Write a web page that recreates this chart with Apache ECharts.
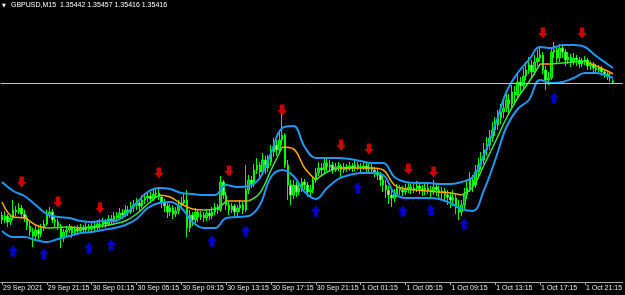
<!DOCTYPE html>
<html><head><meta charset="utf-8">
<script src="https://cdn.jsdelivr.net/npm/echarts@6/dist/echarts.min.js"></script>
<style>html,body{margin:0;padding:0;background:#000;}#c{width:625px;height:295px;}</style>
</head><body><div id="c"></div>
<script>
const symbolName = 'GBPUSD,M15';
const lastQuote = [1.35442, 1.35457, 1.35416, 1.35416];
const bidPrice = 1.35416;
const barCount = 222;
const tickEvery = 16;
const tickLabels = ['29 Sep 2021','29 Sep 21:15','30 Sep 01:15','30 Sep 05:15','30 Sep 09:15','30 Sep 13:15','30 Sep 17:15','30 Sep 21:15','1 Oct 01:15','1 Oct 05:15','1 Oct 09:15','1 Oct 13:15','1 Oct 17:15','1 Oct 21:15'];

// [open, close, low, high]
const candles = [
[1.3410,1.3405,1.3401,1.3413],[1.3405,1.3409,1.3402,1.3414],[1.3409,1.3403,1.3398,1.3411],[1.3403,1.3407,1.3400,1.3410],
[1.3407,1.3415,1.3405,1.3425],[1.3415,1.3413,1.3409,1.3419],[1.3413,1.3417,1.3411,1.3422],[1.3417,1.3411,1.3407,1.3420],
[1.3411,1.3407,1.3403,1.3415],[1.3407,1.3399,1.3395,1.3410],[1.3399,1.3393,1.3389,1.3403],[1.3393,1.3389,1.3378,1.3397],
[1.3389,1.3395,1.3385,1.3399],[1.3395,1.3391,1.3386,1.3398],[1.3391,1.3397,1.3388,1.3401],[1.3397,1.3401,1.3394,1.3405],
[1.3401,1.3410,1.3399,1.3415],[1.3410,1.3413,1.3407,1.3418],[1.3413,1.3405,1.3402,1.3416],[1.3405,1.3403,1.3398,1.3409],
[1.3403,1.3399,1.3395,1.3406],[1.3399,1.3387,1.3377,1.3401],[1.3387,1.3393,1.3383,1.3396],[1.3393,1.3395,1.3389,1.3399],
[1.3395,1.3397,1.3392,1.3401],[1.3397,1.3392,1.3387,1.3399],[1.3392,1.3396,1.3389,1.3399],[1.3396,1.3394,1.3390,1.3400],
[1.3394,1.3397,1.3391,1.3401],[1.3397,1.3395,1.3392,1.3400],[1.3395,1.3398,1.3393,1.3402],[1.3398,1.3396,1.3392,1.3401],
[1.3396,1.3399,1.3394,1.3403],[1.3399,1.3397,1.3393,1.3402],[1.3397,1.3401,1.3395,1.3405],[1.3401,1.3400,1.3396,1.3406],
[1.3400,1.3403,1.3397,1.3407],[1.3403,1.3401,1.3397,1.3406],[1.3401,1.3406,1.3399,1.3410],[1.3406,1.3404,1.3400,1.3410],
[1.3404,1.3409,1.3402,1.3413],[1.3409,1.3407,1.3403,1.3413],[1.3407,1.3412,1.3405,1.3417],[1.3412,1.3410,1.3406,1.3416],
[1.3410,1.3415,1.3408,1.3420],[1.3415,1.3413,1.3409,1.3419],[1.3413,1.3418,1.3411,1.3423],[1.3418,1.3420,1.3413,1.3425],
[1.3420,1.3422,1.3415,1.3427],[1.3422,1.3419,1.3414,1.3426],[1.3419,1.3425,1.3417,1.3430],[1.3425,1.3427,1.3421,1.3432],
[1.3427,1.3429,1.3423,1.3434],[1.3429,1.3426,1.3422,1.3433],[1.3426,1.3431,1.3424,1.3435],[1.3431,1.3432,1.3427,1.3437],
[1.3432,1.3428,1.3425,1.3437],[1.3428,1.3422,1.3417,1.3430],[1.3422,1.3419,1.3413,1.3426],[1.3419,1.3413,1.3407,1.3422],
[1.3413,1.3417,1.3409,1.3421],[1.3417,1.3411,1.3406,1.3420],[1.3411,1.3414,1.3408,1.3418],[1.3414,1.3420,1.3411,1.3425],
[1.3420,1.3422,1.3416,1.3428],[1.3422,1.3425,1.3419,1.3431],[1.3425,1.3397,1.3388,1.3435],[1.3397,1.3410,1.3393,1.3415],
[1.3410,1.3405,1.3399,1.3413],[1.3405,1.3413,1.3402,1.3417],[1.3413,1.3408,1.3403,1.3416],[1.3408,1.3410,1.3405,1.3414],
[1.3410,1.3407,1.3403,1.3413],[1.3407,1.3412,1.3404,1.3416],[1.3412,1.3409,1.3405,1.3415],[1.3409,1.3413,1.3406,1.3418],
[1.3413,1.3418,1.3410,1.3422],[1.3418,1.3415,1.3411,1.3421],[1.3415,1.3443,1.3413,1.3449],[1.3443,1.3430,1.3426,1.3445],
[1.3430,1.3420,1.3415,1.3433],[1.3420,1.3415,1.3410,1.3423],[1.3415,1.3419,1.3412,1.3422],[1.3419,1.3413,1.3407,1.3421],
[1.3413,1.3417,1.3409,1.3420],[1.3417,1.3420,1.3413,1.3425],[1.3420,1.3415,1.3411,1.3423],[1.3415,1.3435,1.3413,1.3460],
[1.3435,1.3445,1.3431,1.3450],[1.3445,1.3441,1.3437,1.3449],[1.3441,1.3455,1.3438,1.3461],[1.3455,1.3460,1.3451,1.3467],
[1.3460,1.3453,1.3447,1.3463],[1.3453,1.3465,1.3450,1.3472],[1.3465,1.3457,1.3451,1.3469],[1.3457,1.3463,1.3453,1.3470],
[1.3463,1.3473,1.3459,1.3480],[1.3473,1.3480,1.3468,1.3487],[1.3480,1.3475,1.3469,1.3485],[1.3475,1.3485,1.3471,1.3495],
[1.3485,1.3490,1.3480,1.3512],[1.3490,1.3460,1.3457,1.3492],[1.3460,1.3440,1.3425,1.3465],[1.3440,1.3430,1.3420,1.3445],
[1.3430,1.3440,1.3426,1.3445],[1.3440,1.3433,1.3428,1.3443],[1.3433,1.3437,1.3430,1.3442],[1.3437,1.3443,1.3433,1.3447],
[1.3443,1.3440,1.3435,1.3446],[1.3440,1.3433,1.3428,1.3443],[1.3433,1.3435,1.3427,1.3440],[1.3435,1.3445,1.3432,1.3449],
[1.3445,1.3452,1.3442,1.3457],[1.3452,1.3457,1.3449,1.3463],[1.3457,1.3455,1.3450,1.3462],[1.3455,1.3462,1.3452,1.3467],
[1.3462,1.3458,1.3454,1.3466],[1.3458,1.3460,1.3455,1.3465],[1.3460,1.3455,1.3451,1.3463],[1.3455,1.3458,1.3453,1.3462],
[1.3458,1.3459,1.3454,1.3463],[1.3459,1.3455,1.3447,1.3461],[1.3455,1.3458,1.3452,1.3462],[1.3458,1.3456,1.3453,1.3461],
[1.3456,1.3459,1.3454,1.3463],[1.3459,1.3457,1.3453,1.3462],[1.3457,1.3460,1.3454,1.3464],[1.3460,1.3458,1.3455,1.3463],
[1.3458,1.3457,1.3453,1.3462],[1.3457,1.3459,1.3455,1.3463],[1.3459,1.3456,1.3452,1.3462],[1.3456,1.3458,1.3453,1.3461],
[1.3458,1.3455,1.3451,1.3461],[1.3455,1.3453,1.3448,1.3458],[1.3453,1.3450,1.3445,1.3456],[1.3450,1.3445,1.3439,1.3453],
[1.3445,1.3440,1.3433,1.3449],[1.3440,1.3435,1.3427,1.3445],[1.3435,1.3430,1.3421,1.3439],[1.3430,1.3427,1.3418,1.3435],
[1.3427,1.3431,1.3423,1.3436],[1.3431,1.3437,1.3428,1.3441],[1.3437,1.3435,1.3430,1.3440],[1.3435,1.3433,1.3429,1.3439],
[1.3433,1.3436,1.3430,1.3441],[1.3436,1.3438,1.3432,1.3442],[1.3438,1.3435,1.3431,1.3441],[1.3435,1.3437,1.3432,1.3441],
[1.3437,1.3439,1.3433,1.3444],[1.3439,1.3436,1.3431,1.3442],[1.3436,1.3434,1.3429,1.3440],[1.3434,1.3437,1.3430,1.3441],
[1.3437,1.3435,1.3431,1.3442],[1.3435,1.3433,1.3428,1.3439],[1.3433,1.3438,1.3430,1.3445],[1.3438,1.3435,1.3429,1.3441],
[1.3435,1.3432,1.3427,1.3439],[1.3432,1.3434,1.3426,1.3438],[1.3434,1.3430,1.3423,1.3437],[1.3430,1.3428,1.3420,1.3435],
[1.3428,1.3425,1.3417,1.3433],[1.3425,1.3427,1.3419,1.3435],[1.3427,1.3417,1.3411,1.3431],[1.3417,1.3413,1.3405,1.3425],
[1.3413,1.3420,1.3409,1.3425],[1.3420,1.3430,1.3416,1.3437],[1.3430,1.3437,1.3426,1.3445],[1.3437,1.3445,1.3433,1.3453],
[1.3445,1.3440,1.3433,1.3450],[1.3440,1.3453,1.3437,1.3460],[1.3453,1.3460,1.3449,1.3467],[1.3460,1.3465,1.3455,1.3473],
[1.3465,1.3475,1.3461,1.3482],[1.3475,1.3480,1.3469,1.3488],[1.3480,1.3487,1.3475,1.3495],[1.3487,1.3495,1.3483,1.3503],
[1.3495,1.3500,1.3489,1.3508],[1.3500,1.3507,1.3495,1.3515],[1.3507,1.3513,1.3501,1.3521],[1.3513,1.3517,1.3507,1.3527],
[1.3517,1.3525,1.3513,1.3533],[1.3525,1.3521,1.3510,1.3531],[1.3521,1.3533,1.3517,1.3540],[1.3533,1.3530,1.3521,1.3539],
[1.3530,1.3543,1.3526,1.3551],[1.3543,1.3539,1.3532,1.3548],[1.3539,1.3549,1.3535,1.3557],[1.3549,1.3555,1.3545,1.3563],
[1.3555,1.3560,1.3551,1.3568],[1.3560,1.3553,1.3547,1.3565],[1.3553,1.3563,1.3550,1.3570],[1.3563,1.3567,1.3559,1.3575],
[1.3567,1.3570,1.3563,1.3578],[1.3570,1.3555,1.3551,1.3573],[1.3555,1.3545,1.3535,1.3559],[1.3545,1.3547,1.3540,1.3553],
[1.3547,1.3573,1.3545,1.3577],[1.3573,1.3575,1.3567,1.3583],[1.3575,1.3567,1.3561,1.3579],[1.3567,1.3577,1.3563,1.3581],
[1.3577,1.3573,1.3567,1.3581],[1.3573,1.3565,1.3559,1.3576],[1.3565,1.3568,1.3561,1.3573],[1.3568,1.3563,1.3558,1.3571],
[1.3563,1.3567,1.3560,1.3572],[1.3567,1.3565,1.3559,1.3570],[1.3565,1.3561,1.3557,1.3568],[1.3561,1.3563,1.3558,1.3567],
[1.3563,1.3565,1.3560,1.3569],[1.3565,1.3559,1.3555,1.3567],[1.3559,1.3561,1.3555,1.3564],[1.3561,1.3557,1.3553,1.3563],
[1.3557,1.3555,1.3551,1.3561],[1.3555,1.3557,1.3552,1.3560],[1.3557,1.3553,1.3549,1.3559],[1.3553,1.3551,1.3547,1.3556],
[1.3551,1.3549,1.3545,1.3554],[1.3549,1.3547,1.3543,1.3552],[1.35442,1.35416,1.35416,1.35457]
];

// band values sampled every 4 bars (last sample = last bar)
const bandStep = 4;
const upperBand = [1.3443,1.3434,1.3429,1.3420,1.3411,1.3408,1.3407,1.3404,1.3403,1.3404,1.3404,1.3410,1.3422,1.3433,1.3437,1.3436,1.3432,1.3431,1.3430,1.3430,1.3440,1.3438,1.3439,1.3447,1.3472,1.3497,1.3499,1.3478,1.3467,1.3467,1.3467,1.3466,1.3464,1.3462,1.3462,1.3448,1.3443,1.3442,1.3442,1.3441,1.3441,1.3443,1.3448,1.3470,1.3500,1.3533,1.3552,1.3565,1.3578,1.3577,1.3580,1.3580,1.3578,1.3569,1.3561,1.3557];
const middleLine = [1.3423,1.3408,1.3407,1.3400,1.33970,1.33975,1.33980,1.33970,1.33980,1.3399,1.3401,1.3404,1.3411,1.3421,1.3430,1.3428,1.3421,1.3416,1.3415,1.3416,1.3424,1.3424,1.3424,1.3432,1.3455,1.3478,1.3476,1.3457,1.3445,1.3453,1.3457,1.3457,1.3457,1.3457,1.3455,1.3440,1.3436,1.3435,1.3434,1.3433,1.3432,1.3430,1.3438,1.3460,1.3483,1.3507,1.3527,1.3543,1.3561,1.3561,1.3562,1.3563,1.3564,1.3559,1.3554,1.3551];
const lowerBand = [1.3394,1.3388,1.3388,1.3385,1.3383,1.3386,1.3389,1.3392,1.3393,1.3395,1.3397,1.3400,1.3406,1.3417,1.3422,1.3423,1.3417,1.3403,1.3397,1.3397,1.3407,1.3408,1.3409,1.3420,1.3448,1.3455,1.3449,1.3433,1.3426,1.3437,1.3446,1.3450,1.3452,1.3452,1.3450,1.3432,1.3427,1.3427,1.3427,1.3426,1.3422,1.3416,1.3414,1.3435,1.3465,1.3498,1.3516,1.3525,1.3545,1.3542,1.3543,1.3547,1.3552,1.3552,1.3549,1.3547];

// signal arrows: [bar index, price]
const sellArrows = [[7,1.3443],[20,1.3423],[35,1.3417],[56,1.3452],[81,1.3454],[100,1.3515],[121,1.3480],[131,1.3476],[145,1.3456],[154,1.3453],[193,1.3592],[207,1.3592]];
const buyArrows = [[4,1.3374],[15,1.3371],[31,1.3377],[39,1.3380],[75,1.3384],[87,1.3394],[112,1.3414],[127,1.3437],[143,1.3414],[153,1.3415],[165,1.3401],[197,1.3527]];

// ---- build ----
const months = ['Jan','Feb','Mar','Apr','May','Jun','Jul','Aug','Sep','Oct','Nov','Dec'];
const pad = n => (n < 10 ? '0' : '') + n;
const t0 = Date.UTC(2021, 8, 29, 17, 15);
const categories = [];
for (let i = 0; i < barCount; i++) {
  const d = new Date(t0 + i * 15 * 60000);
  categories.push(d.getUTCDate() + ' ' + months[d.getUTCMonth()] + ' ' + pad(d.getUTCHours()) + ':' + pad(d.getUTCMinutes()));
}
const bandIndex = upperBand.map((_, k) => Math.min(k * bandStep, candles.length - 1));
const toPairs = arr => arr.map((v, k) => [bandIndex[k], v]);

function splitByTrend(vals, idx) {
  const up = [], down = [];
  for (let k = 0; k < vals.length - 1; k++) {
    const arr = vals[k + 1] > vals[k] ? up : down;
    const last = arr.length ? arr[arr.length - 1] : null;
    if (!(last && last[0] === idx[k] && last[1] !== '-')) {
      if (arr.length) arr.push([idx[k], '-']);
      arr.push([idx[k], vals[k]]);
    }
    arr.push([idx[k + 1], vals[k + 1]]);
  }
  return { up, down };
}
const mid = splitByTrend(middleLine, bandIndex);
const showTick = idx => idx % tickEvery === 0;

const downArrow = 'path://M2.5 0H7.5V6H10L5 12L0 6H2.5Z';
const upArrow = 'path://M5 0L10 6H7.5V12H2.5V6H0Z';

const chart = echarts.init(document.getElementById('c'), null, { renderer: 'canvas' });
chart.setOption({
  backgroundColor: '#000000',
  animation: false,
  grid: { left: -1, top: 0, width: 624.375, height: 282 },
  xAxis: {
    type: 'category', data: categories, boundaryGap: true,
    axisLine: { show: true, lineStyle: { color: '#a8a8a8', width: 1 } },
    axisTick: { show: true, alignWithLabel: true, interval: showTick, length: 3, lineStyle: { color: '#a8a8a8' } },
    axisLabel: {
      interval: showTick, align: 'left', margin: 3,
      color: '#e8e8e8', fontSize: 7, fontFamily: 'Liberation Sans', padding: [0, 0, 0, 1],
      formatter: (v, idx) => tickLabels[Math.round(idx / tickEvery)] || ''
    },
    splitLine: { show: false }
  },
  yAxis: { type: 'value', min: 1.3343, max: 1.3625, show: false, splitLine: { show: false } },
  graphic: [
    { type: 'text', left: 2, top: 3, style: { text: '▼', fill: '#ffffff', fontSize: 5, fontFamily: 'DejaVu Sans' } },
    { type: 'text', left: 11, top: 2, style: { text: symbolName + '  ' + lastQuote.map(v => v.toFixed(5)).join(' '), fill: '#ffffff', fontSize: 7, fontFamily: 'Liberation Sans' } }
  ],
  series: [
    {
      type: 'candlestick', data: candles, barWidth: 2, z: 2,
      itemStyle: { color: '#00b400', color0: '#c8ffc8', borderColor: '#00ff00', borderColor0: '#00ff00', borderWidth: 1 }
    },
    {
      type: 'line', data: toPairs(upperBand), smooth: 0.4, showSymbol: false, z: 3, lineStyle: { color: '#2196f3', width: 2 },
      markLine: {
        silent: true, symbol: 'none', animation: false, precision: 5,
        label: { show: false },
        lineStyle: { color: '#c0c0c0', width: 1, type: 'solid' },
        data: [{ yAxis: bidPrice }]
      }
    },
    { type: 'line', data: toPairs(lowerBand), smooth: 0.4, showSymbol: false, z: 3, lineStyle: { color: '#2196f3', width: 2 } },
    { type: 'line', data: mid.up, smooth: 0.4, showSymbol: false, connectNulls: false, z: 4, lineStyle: { color: '#44e044', width: 1.5 } },
    { type: 'line', data: mid.down, smooth: 0.4, showSymbol: false, connectNulls: false, z: 4, lineStyle: { color: '#ffa500', width: 1.5 } },
    { type: 'scatter', data: sellArrows, symbol: downArrow, symbolSize: [9, 11], z: 5, silent: true, itemStyle: { color: '#ff0000' } },
    { type: 'scatter', data: buyArrows, symbol: upArrow, symbolSize: [9, 11], z: 5, silent: true, itemStyle: { color: '#0000ff' } }
  ]
});
</script>
</body></html>
